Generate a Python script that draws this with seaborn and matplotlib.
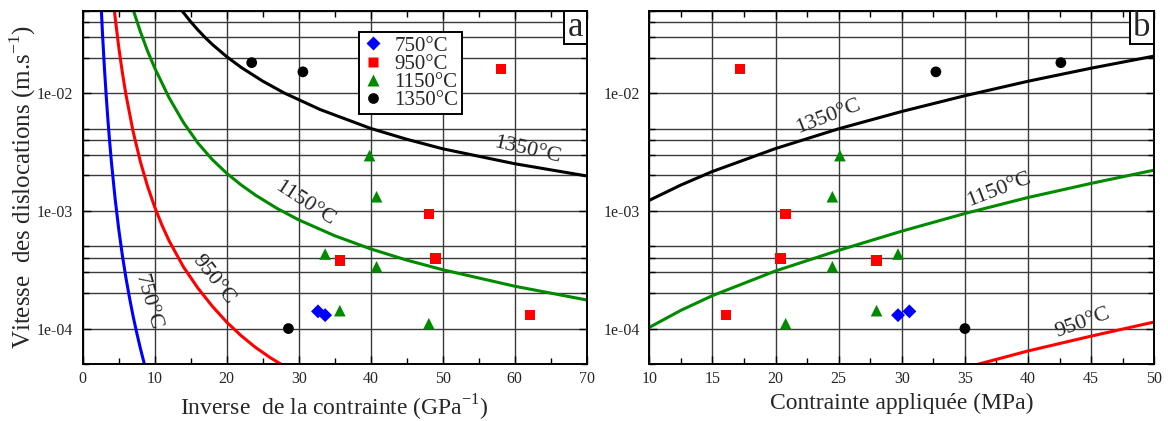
import numpy as np
import pandas as pd
import matplotlib
matplotlib.use("Agg")
import matplotlib.pyplot as plt
import matplotlib.ticker as mticker
from matplotlib.patches import Rectangle
import seaborn as sns

sns.set_theme(style="ticks")
plt.rcParams["font.family"] = ["Liberation Serif", "DejaVu Serif"]
plt.rcParams["mathtext.fontset"] = "custom"
plt.rcParams["mathtext.rm"] = "Liberation Serif"

temps = ["750°C", "950°C", "1150°C", "1350°C"]
colors = ["#0000ff", "#ff0000", "#008a00", "#000000"]
markers = ["D", "s", "^", "o"]
marker_sizes = [50, 55, 70, 60]

# measured points: applied stress (MPa) and dislocation velocity (m/s)
stress_750 = [29.7, 30.6]
speed_750 = [1.30e-4, 1.40e-4]
stress_950 = [17.2, 20.8, 20.4, 28.0, 16.1]
speed_950 = [1.61e-2, 9.4e-4, 3.95e-4, 3.8e-4, 1.30e-4]
stress_1150 = [25.1, 24.5, 24.5, 29.7, 20.8, 28.0]
speed_1150 = [2.95e-3, 1.32e-3, 3.35e-4, 4.3e-4, 1.10e-4, 1.42e-4]
stress_1350 = [32.7, 42.6, 35.0]
speed_1350 = [1.52e-2, 1.82e-2, 1.0e-4]

# model curves: inverse stress (GPa^-1) and log10 of velocity
inv_750 = [2.45, 2.75, 3.0, 3.25, 3.5, 3.75, 4.0, 4.5, 5.0, 5.5, 6.0, 6.5, 7.0, 7.5, 8.0, 8.6]
logv_inv_750 = [-1.113, -1.495, -1.768, -2.009, -2.224, -2.417, -2.591, -2.895, -3.153,
                -3.374, -3.567, -3.738, -3.895, -4.035, -4.165, -4.31]
inv_950 = [4.2, 4.5, 5.0, 5.5, 6.0, 7.0, 8.0, 9.0, 10, 11, 12, 14, 16, 18, 20, 22, 24, 26, 28]
logv_inv_950 = [-1.181, -1.353, -1.605, -1.821, -2.010, -2.325, -2.579, -2.789, -2.967,
                -3.120, -3.254, -3.477, -3.656, -3.81, -3.945, -4.06, -4.16, -4.245, -4.32]
inv_1150 = [6.9, 8, 9, 10, 12, 14, 16, 18, 20, 22, 24, 27, 30, 35, 40, 45, 50, 60, 70]
logv_inv_1150 = [-1.27, -1.475, -1.64, -1.785, -2.038, -2.249, -2.423, -2.564, -2.68, -2.779,
                 -2.866, -2.979, -3.076, -3.211, -3.323, -3.418, -3.50, -3.64, -3.757]
inv_1350 = [13.6, 15, 16, 17, 18, 20, 22, 25, 28, 33, 40, 45, 50, 60, 70]
logv_inv_1350 = [-1.285, -1.392, -1.462, -1.526, -1.585, -1.689, -1.78, -1.897, -1.998,
                 -2.139, -2.299, -2.391, -2.472, -2.599, -2.703]

# model curves: stress (MPa) and log10 of velocity
sig_950 = [35.8, 40, 45, 50]
logv_sig_950 = [-4.31, -4.19, -4.064, -3.944]
sig_1150 = [10, 12.5, 15, 20, 25, 30, 35, 40, 45, 50]
logv_sig_1150 = [-3.99, -3.845, -3.72, -3.51, -3.335, -3.172, -3.022, -2.886, -2.766, -2.653]
sig_1350 = [10, 12.5, 15, 20, 25, 30, 35, 40, 45, 50]
logv_sig_1350 = [-2.91, -2.78, -2.665, -2.47, -2.302, -2.155, -2.021, -1.898, -1.787, -1.684]

pts = pd.concat([
    pd.DataFrame({"T": t, "stress": s, "v": v})
    for t, s, v in zip(temps,
                       [stress_750, stress_950, stress_1150, stress_1350],
                       [speed_750, speed_950, speed_1150, speed_1350])
], ignore_index=True)
pts["inverse"] = 1000.0 / pts["stress"]

palette = dict(zip(temps, colors))
marker_map = dict(zip(temps, markers))
size_map = dict(zip(temps, marker_sizes))

fig = plt.figure(figsize=(11.68, 4.21), dpi=100)
ax1 = fig.add_axes([82.7 / 1168, 1 - 364 / 421, 504 / 1168, 353 / 421])
ax2 = fig.add_axes([649.3 / 1168, 1 - 364 / 421, 505 / 1168, 353 / 421])

grid_col = "#3a3a3a"


def style_axis(ax, xlim, major, minor):
    ax.set_yscale("log")
    ax.set_ylim(5e-5, 5e-2)
    ax.set_xlim(*xlim)
    ax.xaxis.set_major_locator(mticker.MultipleLocator(major))
    ax.xaxis.set_minor_locator(mticker.MultipleLocator(minor))
    ax.yaxis.set_major_locator(mticker.LogLocator(base=10))
    ax.yaxis.set_minor_locator(mticker.LogLocator(base=10, subs=[2, 3, 4, 5]))
    ax.yaxis.set_major_formatter(mticker.FuncFormatter(lambda v, p: f"{v:.0e}"))
    ax.yaxis.set_minor_formatter(mticker.NullFormatter())
    ax.set_axisbelow(True)
    ax.grid(True, which="major", color=grid_col, lw=1.0)
    ax.grid(True, which="minor", axis="y", color=grid_col, lw=1.0)
    ax.tick_params(which="both", direction="in", top=True, right=True,
                   labelsize=11.5, width=1.0, color="black")
    ax.tick_params(which="major", length=6)
    ax.tick_params(which="minor", length=4.5)
    ax.tick_params(axis="y", pad=7)
    ax.tick_params(axis="x", pad=5)
    for sp in ax.spines.values():
        sp.set_linewidth(1.4)
        sp.set_color("black")


def panel_letter(ax, letter, w):
    ax.add_patch(Rectangle((1 - w, 1 - 0.0935), w, 0.0935, transform=ax.transAxes,
                           fc="white", ec="black", lw=1.4, zorder=10, clip_on=False))
    ax.text(1 - w / 2, 1 - 0.0935 / 2, letter, transform=ax.transAxes, ha="center",
            va="center", fontsize=25, zorder=11)


# panel a
for x, lv, c in zip([inv_750, inv_950, inv_1150, inv_1350],
                    [logv_inv_750, logv_inv_950, logv_inv_1150, logv_inv_1350], colors):
    sns.lineplot(x=x, y=10 ** np.array(lv), color=c, lw=2.2, ax=ax1, legend=False)
sns.scatterplot(data=pts, x="inverse", y="v", hue="T", style="T", size="T",
                hue_order=temps, style_order=temps, size_order=temps, palette=palette,
                markers=marker_map, sizes=size_map, edgecolor="none", ax=ax1, zorder=5)
style_axis(ax1, (0, 70), 10, 5)
ax1.set_xlabel(r"Inverse  de la contrainte (GPa$^{-1}$)", fontsize=17, labelpad=4)
ax1.set_ylabel(r"Vitesse  des dislocations (m.s$^{-1}$)", fontsize=18, labelpad=-1)

for txt, x, y, rot in [("750°C", 9.07, 1.67e-4, -74), ("950°C", 18.2, 2.58e-4, -52),
                       ("1150°C", 30.9, 1.16e-3, -33), ("1350°C", 61.8, 3.3e-3, -13)]:
    ax1.text(x, y, txt, rotation=rot, ha="center", va="center", fontsize=16,
             rotation_mode="anchor")

sns.move_legend(ax1, "upper left", bbox_to_anchor=(0.548, 0.9405), title=None,
                frameon=True, fancybox=False, framealpha=1, edgecolor="black",
                fontsize=15, borderaxespad=0, labelspacing=-0.07, handletextpad=0.5,
                handlelength=1.0, borderpad=0.2)
ax1.get_legend().get_frame().set_linewidth(1.4)
panel_letter(ax1, "a", 0.045)

# panel b
for x, lv, c in zip([sig_950, sig_1150, sig_1350],
                    [logv_sig_950, logv_sig_1150, logv_sig_1350], colors[1:]):
    sns.lineplot(x=x, y=10 ** np.array(lv), color=c, lw=2.2, ax=ax2, legend=False)
sns.scatterplot(data=pts, x="stress", y="v", hue="T", style="T", size="T",
                hue_order=temps, style_order=temps, size_order=temps, palette=palette,
                markers=marker_map, sizes=size_map, edgecolor="none", ax=ax2, zorder=5,
                legend=False)
style_axis(ax2, (10, 50), 5, 2.5)
ax2.set_xlabel("Contrainte appliquée (MPa)", fontsize=17, labelpad=4)
ax2.set_ylabel("")

for txt, x, y, rot in [("1350°C", 24.2, 6.3e-3, 21), ("1150°C", 37.7, 1.51e-3, 21),
                       ("950°C", 44.3, 1.12e-4, 20)]:
    ax2.text(x, y, txt, rotation=rot, ha="center", va="center", fontsize=16,
             rotation_mode="anchor")
panel_letter(ax2, "b", 0.048)

fig.savefig("out.png", dpi=100)
